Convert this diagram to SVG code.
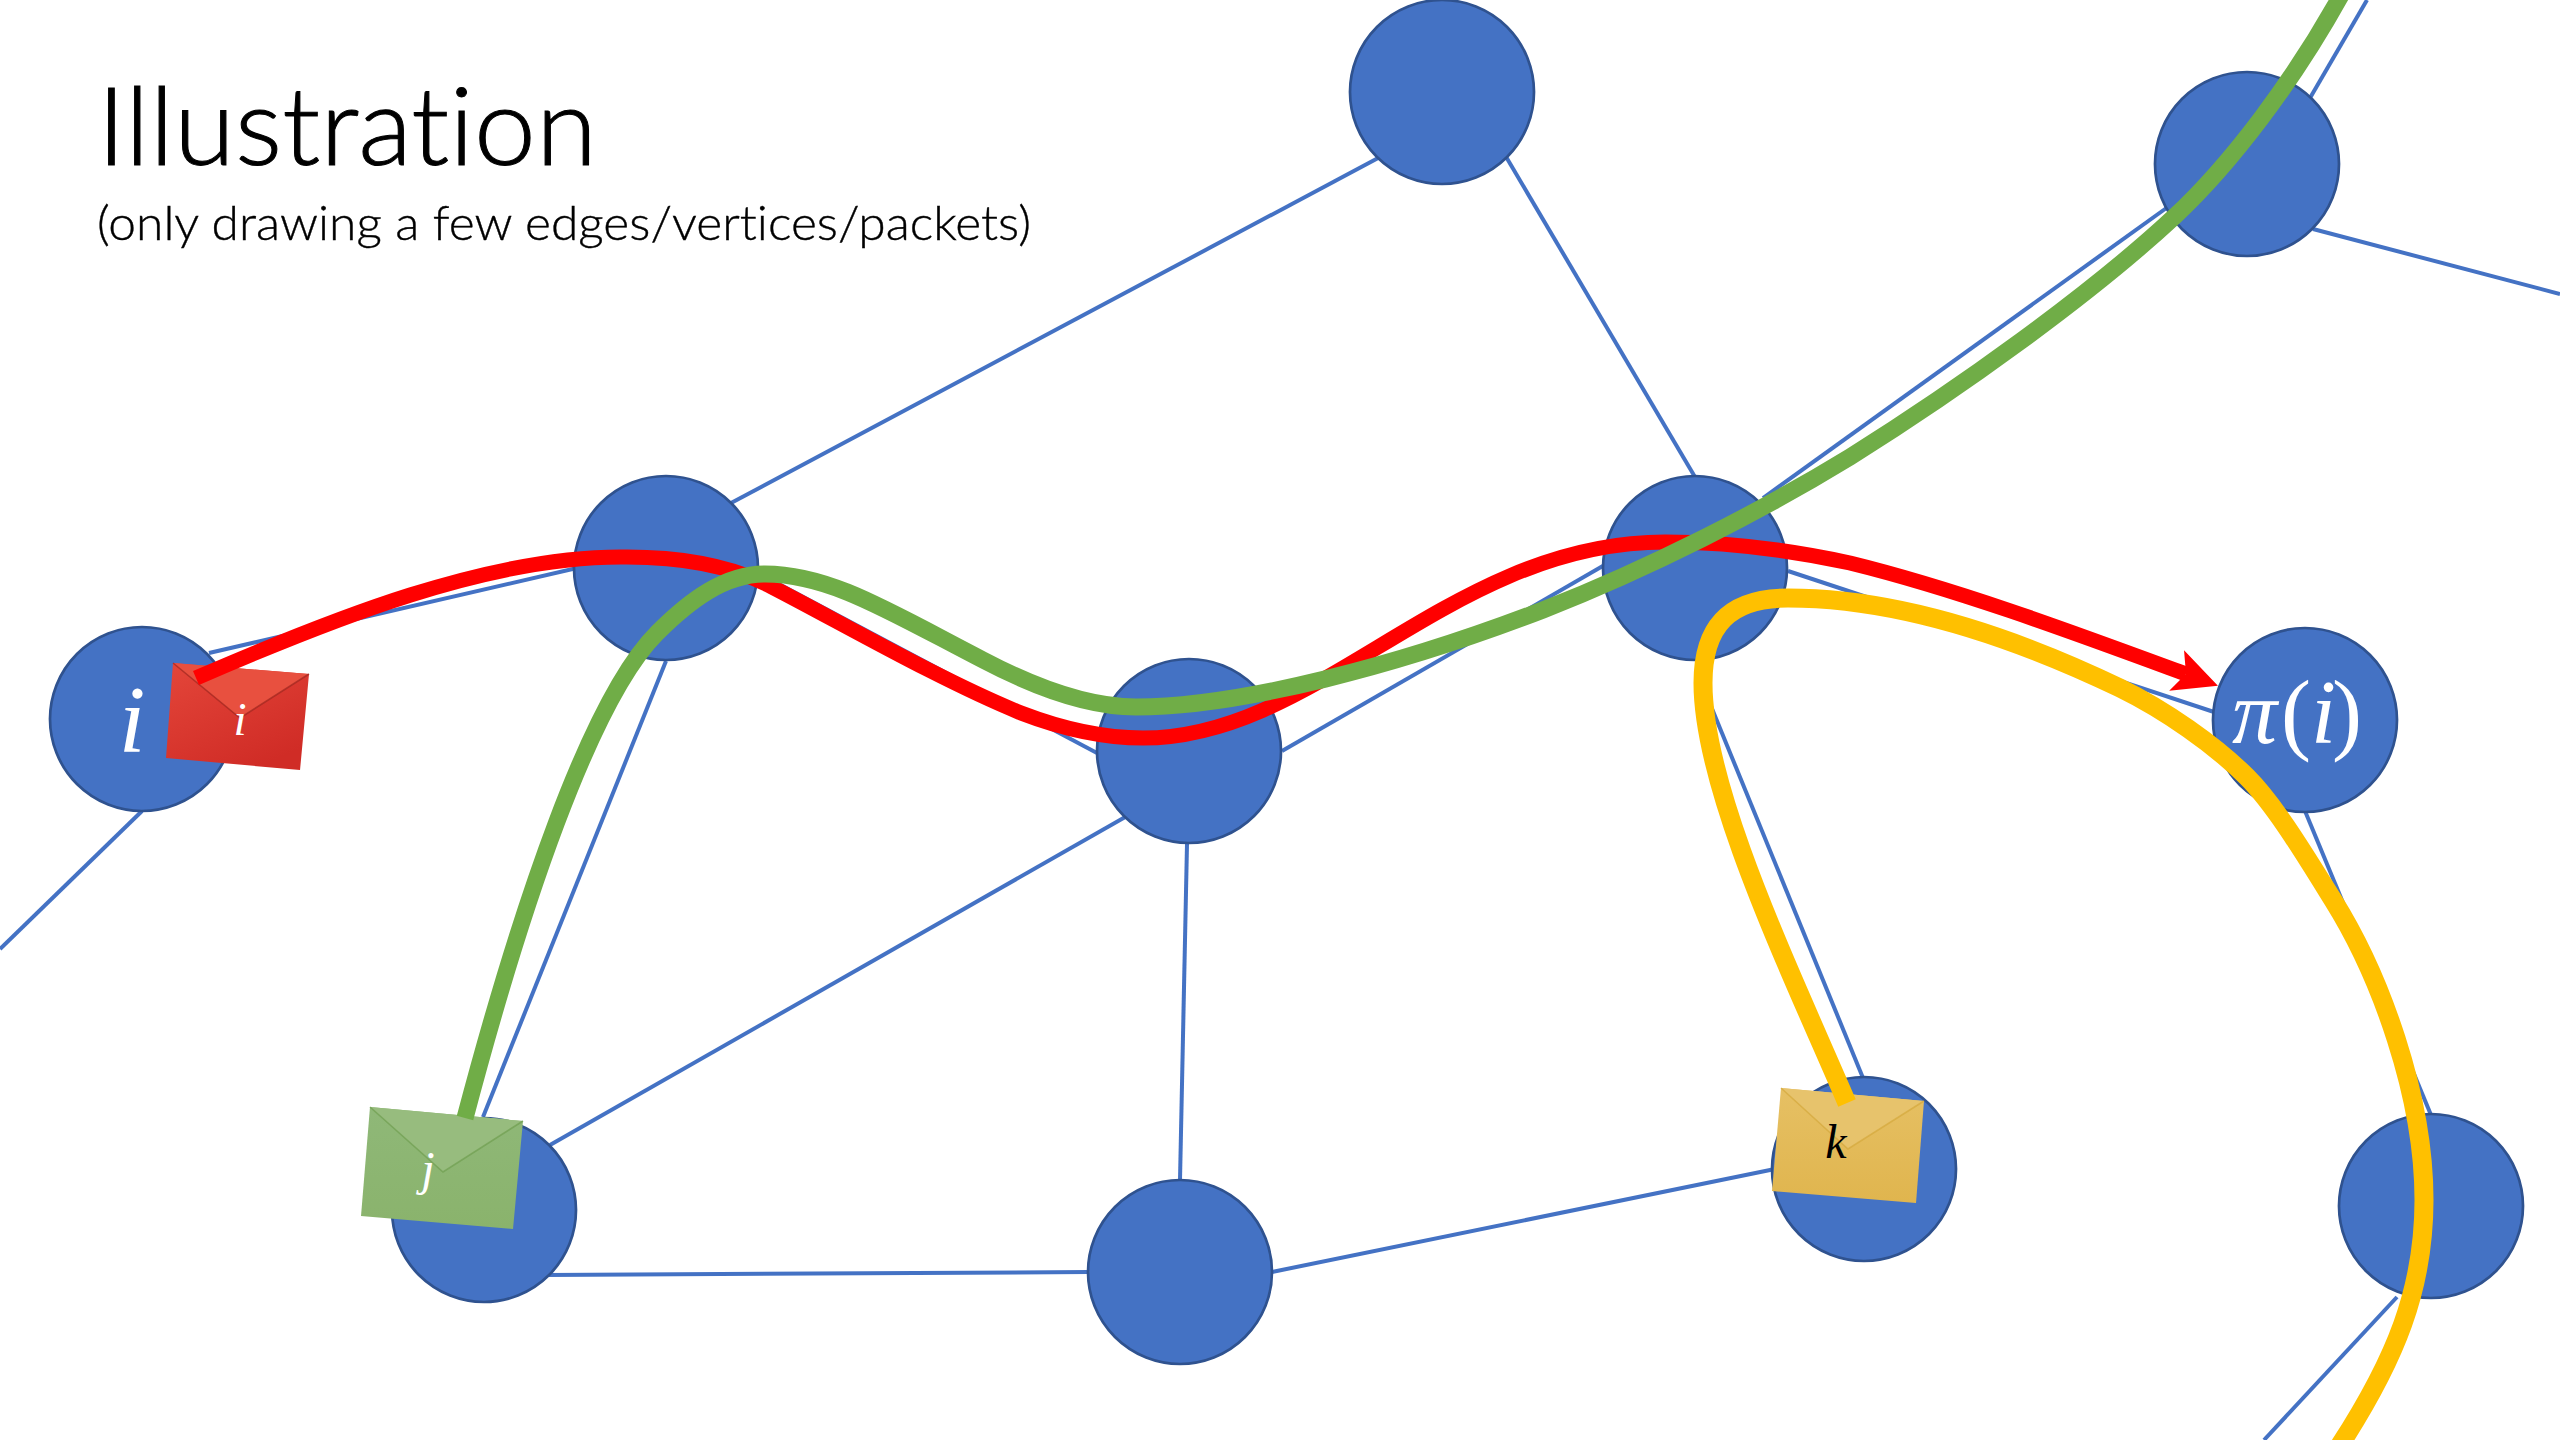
<svg xmlns="http://www.w3.org/2000/svg" width="2560" height="1440" viewBox="0 0 2560 1440">
<style>
.edge{stroke:#4472C4;stroke-width:4;fill:none}
.node{fill:#4472C4;stroke:#2F528F;stroke-width:2.7}
.curve{fill:none}
.math{font-family:"Liberation Serif",serif;font-style:italic}
.ttl{font-family:Lato,"Liberation Sans",sans-serif;font-weight:300;fill:#000;stroke:#000;font-variant-ligatures:none}
.fold{fill:none;stroke-width:1.6;stroke-opacity:.7}
</style>
<defs>
<marker id="arrow" markerUnits="userSpaceOnUse" markerWidth="50" markerHeight="50" refX="10" refY="25" orient="auto" viewBox="0 0 50 50"><path d="M44 25 L0 3.5 L10 25 L0 46.5Z" fill="#FF0000"/></marker>
<linearGradient id="gr" x1="0" y1="0" x2="0.6" y2="1"><stop offset="0" stop-color="#E4463A"/><stop offset="1" stop-color="#D02C26"/></linearGradient>
<linearGradient id="gg" x1="0" y1="0" x2="0" y2="1"><stop offset="0" stop-color="#8FB878"/><stop offset="1" stop-color="#8AB36C"/></linearGradient>
<linearGradient id="gy" x1="0" y1="0" x2="0" y2="1"><stop offset="0" stop-color="#E6C064"/><stop offset="1" stop-color="#E0B54E"/></linearGradient>
</defs>
<rect width="2560" height="1440" fill="#FFFFFF"/>
<g id="edges">
<path class="edge" d="M209 653L577 568"/>
<path class="edge" d="M731 503L1380 157"/>
<path class="edge" d="M1505 155L1695 477"/>
<path class="edge" d="M760 574L1097 753"/>
<path class="edge" d="M666 661L483 1117"/>
<path class="edge" d="M1282 751L1608 563"/>
<path class="edge" d="M1127 816L550 1145"/>
<path class="edge" d="M1187 844L1180 1180"/>
<path class="edge" d="M547 1275L1089 1272"/>
<path class="edge" d="M1272 1272L1775 1169"/>
<path class="edge" d="M1706 694L1863 1078"/>
<path class="edge" d="M1763 498L2172 204"/>
<path class="edge" d="M2310 98L2367 0"/>
<path class="edge" d="M2313 229L2560 294"/>
<path class="edge" d="M1788 571L2217 713"/>
<path class="edge" d="M2305 811L2431 1115"/>
<path class="edge" d="M2397 1297L2264 1440"/>
<path class="edge" d="M142 811L0 949"/>
</g>
<g id="node-top"><circle class="node" cx="1442" cy="92" r="92"/></g>
<g id="node-right-top"><circle class="node" cx="2247" cy="164" r="92"/></g>
<g id="node-i"><circle class="node" cx="142" cy="719" r="92"/><text class="math" x="132" y="752" font-size="96" fill="#FFFFFF" text-anchor="middle">i</text></g>
<g id="node-a"><circle class="node" cx="666" cy="568" r="92"/></g>
<g id="node-center"><circle class="node" cx="1189" cy="751" r="92"/></g>
<g id="node-b"><circle class="node" cx="1695" cy="568" r="92"/></g>
<g id="node-pi"><circle class="node" cx="2305" cy="720" r="92"/><text class="math" y="743" font-size="90" fill="#FFFFFF"><tspan x="2232">π</tspan><tspan x="2281" font-style="normal">(</tspan><tspan x="2311">i</tspan><tspan x="2332" font-style="normal">)</tspan></text></g>
<g id="node-j"><circle class="node" cx="484" cy="1210" r="92"/></g>
<g id="node-bottom"><circle class="node" cx="1180" cy="1272" r="92"/></g>
<g id="node-k"><circle class="node" cx="1864" cy="1169" r="92"/></g>
<g id="node-far-right"><circle class="node" cx="2431" cy="1206" r="92"/></g>
<g id="packet-i">
<polygon points="173,663 309,674 300,770 166,758" fill="url(#gr)"/>
<polygon points="173,663 309,674 240,718" fill="#E8503F"/>
<path class="fold" d="M173 663L240 718L309 674" stroke="#9E2620"/>
<text class="math" x="240" y="735" font-size="47" fill="#FFFFFF" text-anchor="middle">i</text>
</g>
<g id="packet-j">
<polygon points="370,1107 523,1121 513,1229 361,1216" fill="url(#gg)"/>
<polygon points="370,1107 523,1121 443,1172" fill="#97BC7E"/>
<path class="fold" d="M370 1107L443 1172L523 1121" stroke="#6F9E50"/>
<text class="math" x="428" y="1185" font-size="48" fill="#FFFFFF" text-anchor="middle">j</text>
</g>
<g id="packet-k">
<polygon points="1781,1088 1924,1101 1916,1203 1772,1191" fill="url(#gy)"/>
<polygon points="1781,1088 1924,1101 1848,1149" fill="#E7C36C"/>
<path class="fold" d="M1781 1088L1848 1149L1924 1101" stroke="#D4A83C"/>
<text class="math" x="1836" y="1158" font-size="48" fill="#000000" text-anchor="middle">k</text>
</g>
<g id="connectors">
<path class="curve" stroke="#FF0000" stroke-width="15" marker-end="url(#arrow)" d="M196 678C330 620 490 555 627 557C680 557 730 565 772 587C840 622 940 680 1021 713C1060 728 1100 738 1143 738C1320 738 1450 542 1665 542C1730 542 1790 550 1850 563C1960 590 2080 635 2186 674"/>
<path class="curve" stroke="#70AD47" stroke-width="17" d="M465 1118C520 910 590 700 657 633C690 600 725 574 765 574C830 574 890 612 983 660C1040 690 1090 707 1136 707C1240 707 1400 665 1543 610C1650 568 1760 512 1850 457C1960 388 2090 295 2174 217C2230 165 2295 80 2345 -12"/>
<path class="curve" stroke="#FFC000" stroke-width="19" d="M1847 1103C1790 970 1703 790 1703 683C1703 625 1730 598 1788 598C1900 598 2020 640 2120 688C2165 710 2215 745 2247 777C2275 805 2305 855 2333 900C2380 975 2424 1095 2424 1200C2424 1290 2395 1360 2340 1445"/>
</g>
<g id="title">
<text class="ttl" x="97" y="165" font-size="108" stroke-width="1" textLength="500" lengthAdjust="spacingAndGlyphs">Illustration</text>
<text class="ttl" x="97" y="240" font-size="48" stroke-width="0.4" textLength="934" lengthAdjust="spacingAndGlyphs">(only drawing a few edges/vertices/packets)</text>
</g>
</svg>
